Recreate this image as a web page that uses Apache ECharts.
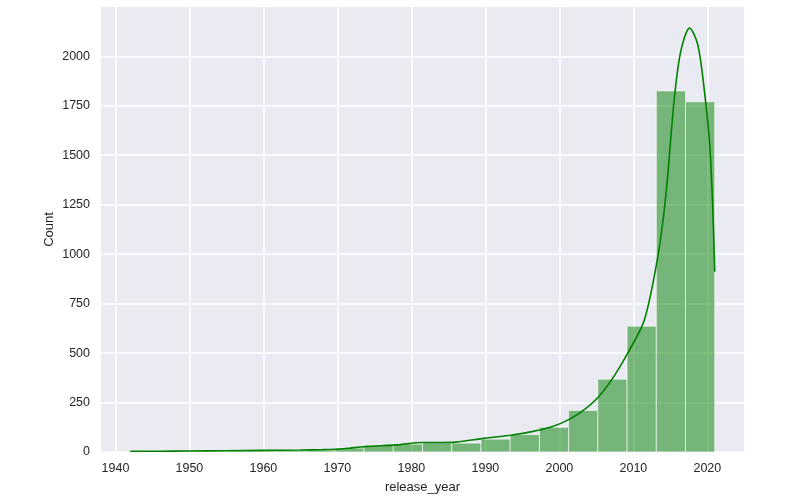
<!DOCTYPE html>
<html>
<head>
<meta charset="utf-8">
<script src="https://cdn.jsdelivr.net/npm/echarts@6/dist/echarts.min.js"></script>
<style>
  html, body { margin: 0; padding: 0; background: #fff; }
  #main { width: 800px; height: 499px; }
</style>
</head>
<body>
<div id="main"></div>
<script>
// 直方图分箱: 1942 ~ 2021, 20 个箱
var binStart = 1942;
var binWidth = 3.95;
var binCounts = [3, 2, 4, 4, 6, 8, 10, 20, 35, 40, 47, 45, 65, 88, 125, 210, 368, 636, 1825, 1770];

// kde 曲线 (从图上读出的点)
var kdeYears = [1942, 1946, 1950, 1955, 1960, 1965, 1968, 1970.3, 1972, 1974, 1978, 1981.5, 1984, 1986, 1989.8,
    1993.6, 1996.3, 1999, 2001.4, 2003.5, 2005.4, 2007.5, 2009.5, 2011.5, 2013.3, 2014.4, 2015.5, 2016.4,
    2017.6, 2018.7, 2019.6, 2020.3, 2020.7, 2021];
var kdeCounts = [4, 4, 5, 6, 8, 10, 12, 15, 21, 28, 36, 48, 48, 50, 69,
    86, 103, 128, 166, 218, 283, 390, 517, 668, 987, 1300, 1774, 2025,
    2142, 2059, 1824, 1560, 1260, 911];

// 坐标轴刻度
var xTicks = [1940, 1950, 1960, 1970, 1980, 1990, 2000, 2010, 2020];
var yTicks = [0, 250, 500, 750, 1000, 1250, 1500, 1750, 2000];

var myChart = echarts.init(document.getElementById('main'));

var barData = binCounts.map(function (c, i) {
    var x0 = binStart + i * binWidth;
    return [x0, x0 + binWidth, c];
});
var kdeData = kdeYears.map(function (y, i) {
    return [y, kdeCounts[i]];
});

var labelFont = {
    color: '#262626',
    fontSize: 12.5,
    fontFamily: 'Liberation Sans, Arial, sans-serif',
    formatter: function (v) { return String(v); } //不要千分位
};

option = {
    animation: false,
    grid: {
        left: 101,
        right: 56,
        top: 7,
        bottom: 46,
        show: true,
        backgroundColor: '#EAEAF2',
        borderWidth: 0
    },
    xAxis: {
        type: 'value',
        min: 1938.05,
        max: 2024.95,
        interval: 10,
        name: 'release_year',
        nameLocation: 'middle',
        nameGap: 29,
        nameMoveOverlap: false,
        nameTextStyle: { color: '#262626', fontSize: 13, fontFamily: 'Liberation Sans, Arial, sans-serif' },
        axisLine: { show: false },
        axisTick: { show: false, customValues: xTicks },
        axisLabel: Object.assign({ margin: 10, customValues: xTicks }, labelFont),
        splitLine: { show: true, lineStyle: { color: '#ffffff', width: 1.5 } }
    },
    yAxis: {
        type: 'value',
        min: 0,
        max: 2249,
        interval: 250,
        name: 'Count',
        nameLocation: 'middle',
        nameGap: 45,
        nameMoveOverlap: false, //v6 默认会避让标签
        nameTextStyle: { color: '#262626', fontSize: 13, fontFamily: 'Liberation Sans, Arial, sans-serif' },
        axisLine: { show: false },
        axisTick: { show: false, customValues: yTicks },
        axisLabel: Object.assign({ margin: 11, customValues: yTicks }, labelFont),
        splitLine: { show: true, lineStyle: { color: '#ffffff', width: 1.5 } }
    },
    series: [{
        name: 'hist',
        type: 'custom',
        data: barData,
        encode: { x: [0, 1], y: 2 },
        renderItem: function (params, api) {
            var p0 = api.coord([api.value(0), api.value(2)]);
            var p1 = api.coord([api.value(1), 0]);
            return {
                type: 'rect',
                shape: { x: p0[0], y: p0[1], width: p1[0] - p0[0], height: p1[1] - p0[1] },
                style: { fill: 'rgba(0,128,0,0.5)', stroke: 'rgba(255,255,255,0.6)', lineWidth: 1 }
            };
        },
        z: 2
    }, {
        name: 'kde',
        type: 'line',
        data: kdeData,
        smooth: 0.3,
        showSymbol: false,
        lineStyle: { color: '#008000', width: 1.6 },
        z: 3
    }]
};

myChart.setOption(option);
window.onresize = myChart.resize;
</script>
</body>
</html>
